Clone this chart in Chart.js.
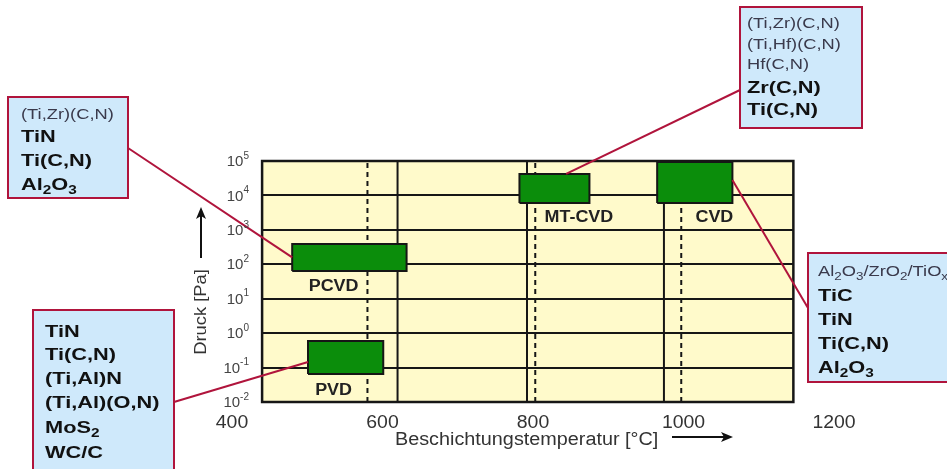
<!DOCTYPE html>
<html>
<head>
<meta charset="utf-8">
<script src="https://cdn.jsdelivr.net/npm/chart.js@4/dist/chart.umd.min.js"></script>
<style>
  html, body { margin: 0; padding: 0; background: #ffffff; }
  #wrap { position: relative; width: 947px; height: 469px; }
</style>
</head>
<body>
<div id="wrap"><canvas id="c"></canvas></div>
<script>
// Coating processes: working window of temperature [°C] and pressure [Pa]
const processes = ['PVD', 'PCVD', 'MT-CVD', 'CVD'];
const tempMin   = [501, 480, 782, 965];
const tempMax   = [601, 632, 875, 1065];
const pressMin  = [0.065, 64, 6000, 6000];
const pressMax  = [0.59, 390, 42000, 93000];

// Where each process name sits (temperature, pressure)
const labelTemp  = [535, 535, 861, 1041];
const labelPress = [0.021, 22, 2200, 2200];

// Axis ticks
const tempTicks = [400, 600, 800, 1000, 1200];
const pressExponents = [5, 4, 3, 2, 1, 0, -1, -2];

// Diagram frame and reference temperatures
const frameTemp  = [440, 1146];
const framePress = [1e-2, 1e5];
const solidTemps  = [620, 792, 974];
const dashedTemps = [580, 803, 997];

// Typical coatings per process
const coatPVD    = [['b', 'TiN'], ['b', 'Ti(C,N)'], ['b', '(Ti,Al)N'], ['b', '(Ti,Al)(O,N)'], ['b', 'MoS{2}'], ['b', 'WC/C']];
const coatPCVD   = [['s', '(Ti,Zr)(C,N)'], ['b', 'TiN'], ['b', 'Ti(C,N)'], ['b', 'Al{2}O{3}']];
const coatMTCVD  = [['s', '(Ti,Zr)(C,N)'], ['s', '(Ti,Hf)(C,N)'], ['s', 'Hf(C,N)'], ['b', 'Zr(C,N)'], ['b', 'Ti(C,N)']];
const coatCVD    = [['s', 'Al{2}O{3}/ZrO{2}/TiO{x}'], ['b', 'TiC'], ['b', 'TiN'], ['b', 'Ti(C,N)'], ['b', 'Al{2}O{3}']];

// Leader line targets on each process box (temperature, pressure)
const leaderTemp  = [501, 480, 844, 1065];
const leaderPress = [0.145, 158, 42000, 28000];

// Callout box placement (pixels), one per process
const calloutLayout = [
  { lines: coatPVD,   rect: [33, 310, 141, 175], anchor: [174, 402], textX: 45,  rows: [332, 355, 379, 403, 428, 453] },
  { lines: coatPCVD,  rect: [8, 97, 120, 101],   anchor: [128, 148], textX: 21,  rows: [115, 137, 161, 185] },
  { lines: coatMTCVD, rect: [740, 7, 122, 121],  anchor: [740, 90],  textX: 747, rows: [24, 45, 65, 88, 110] },
  { lines: coatCVD,   rect: [808, 253, 160, 129], anchor: [808, 308], textX: 818, rows: [272, 296, 320, 344, 368] }
];

const FONT = '"Liberation Sans", Arial, Helvetica, sans-serif';
const STYLE = {
  b: { size: 17, weight: 'bold', color: '#111111', stretch: 1.28 },
  s: { size: 15, weight: 'normal', color: '#3a3a4c', stretch: 1.22 }
};

// Draw text with {sub} subscripts, horizontally stretched, vertically centred on y
function richText(ctx, str, x, y, st, align) {
  const parts = [];
  const re = /\{([^}]*)\}/g;
  let last = 0, m;
  while ((m = re.exec(str)) !== null) {
    if (m.index > last) parts.push([str.slice(last, m.index), false]);
    parts.push([m[1], true]);
    last = re.lastIndex;
  }
  if (last < str.length) parts.push([str.slice(last), false]);
  const subSize = Math.round(st.size * 0.72);
  ctx.save();
  ctx.textBaseline = 'middle';
  ctx.textAlign = 'left';
  ctx.fillStyle = st.color;
  let total = 0;
  for (const [t, sub] of parts) {
    ctx.font = `${st.weight} ${sub ? subSize : st.size}px ${FONT}`;
    total += ctx.measureText(t).width;
  }
  const stretch = st.stretch || 1;
  let startX = x;
  if (align === 'center') startX = x - total * stretch / 2;
  else if (align === 'right') startX = x - total * stretch;
  ctx.translate(startX, y);
  ctx.scale(stretch, 1);
  let cx = 0;
  for (const [t, sub] of parts) {
    ctx.font = `${st.weight} ${sub ? subSize : st.size}px ${FONT}`;
    ctx.fillText(t, cx, sub ? st.size * 0.32 : 0);
    cx += ctx.measureText(t).width;
  }
  ctx.restore();
}

function arrow(ctx, x1, y1, x2, y2) {
  const ang = Math.atan2(y2 - y1, x2 - x1);
  ctx.save();
  ctx.strokeStyle = '#111';
  ctx.fillStyle = '#111';
  ctx.lineWidth = 2;
  ctx.beginPath();
  ctx.moveTo(x1, y1);
  ctx.lineTo(x2 - 8 * Math.cos(ang), y2 - 8 * Math.sin(ang));
  ctx.stroke();
  ctx.translate(x2, y2);
  ctx.rotate(ang);
  ctx.beginPath();
  ctx.moveTo(0, 0);
  ctx.lineTo(-12, -5);
  ctx.lineTo(-9, 0);
  ctx.lineTo(-12, 5);
  ctx.closePath();
  ctx.fill();
  ctx.restore();
}

// Yellow field, pressure grid and frame under the process boxes
const framePlugin = {
  id: 'frame',
  beforeDatasetsDraw(chart) {
    const { ctx, scales: { x, y } } = chart;
    const L = x.getPixelForValue(frameTemp[0]);
    const R = x.getPixelForValue(frameTemp[1]);
    const T = y.getPixelForValue(framePress[1]);
    const B = y.getPixelForValue(framePress[0]);
    ctx.save();
    ctx.fillStyle = '#fffacb';
    ctx.fillRect(L, T, R - L, B - T);
    ctx.strokeStyle = '#161616';
    ctx.lineWidth = 2;
    for (const e of pressExponents) {
      const v = Math.pow(10, e);
      if (v <= framePress[0] || v >= framePress[1]) continue;
      const py = Math.round(y.getPixelForValue(v));
      ctx.beginPath();
      ctx.moveTo(L, py);
      ctx.lineTo(R, py);
      ctx.stroke();
    }
    ctx.lineWidth = 2.5;
    ctx.strokeRect(L, T, R - L, B - T);
    ctx.restore();
  },
  afterDatasetsDraw(chart) {
    const { ctx, scales: { x, y } } = chart;
    // process names
    for (let i = 0; i < processes.length; i++) {
      richText(ctx, processes[i], x.getPixelForValue(labelTemp[i]), y.getPixelForValue(labelPress[i]),
        { size: 16, weight: 'bold', color: '#222222', stretch: 1.12 }, 'center');
    }
    // leader lines to the coating callouts
    ctx.save();
    ctx.strokeStyle = '#b0143c';
    ctx.lineWidth = 2;
    for (let i = 0; i < processes.length; i++) {
      const c = calloutLayout[i];
      ctx.beginPath();
      ctx.moveTo(c.anchor[0], c.anchor[1]);
      ctx.lineTo(x.getPixelForValue(leaderTemp[i]), y.getPixelForValue(leaderPress[i]));
      ctx.stroke();
    }
    ctx.restore();
  },
  afterDraw(chart) {
    const { ctx, scales: { x, y } } = chart;
    // callout boxes
    for (const c of calloutLayout) {
      const [rx, ry, rw, rh] = c.rect;
      ctx.save();
      ctx.fillStyle = '#cfe9fb';
      ctx.fillRect(rx, ry, rw, rh);
      ctx.strokeStyle = '#b0143c';
      ctx.lineWidth = 2;
      ctx.strokeRect(rx, ry, rw, rh);
      ctx.restore();
      c.lines.forEach((ln, k) => richText(ctx, ln[1], c.textX, c.rows[k], STYLE[ln[0]], 'left'));
    }
    // temperature tick labels
    for (const t of tempTicks) {
      richText(ctx, String(t), x.getPixelForValue(t), 423,
        { size: 18, weight: 'normal', color: '#333333', stretch: 1.08 }, 'center');
    }
    // pressure tick labels 10^n
    ctx.save();
    ctx.fillStyle = '#444444';
    ctx.textBaseline = 'middle';
    ctx.textAlign = 'left';
    for (const e of pressExponents) {
      const py = y.getPixelForValue(Math.pow(10, e)) + 1;
      ctx.font = `15px ${FONT}`;
      const wb = ctx.measureText('10').width;
      ctx.font = `10px ${FONT}`;
      const sup = String(e).replace('-', '\u2011');
      const ws = ctx.measureText(sup).width;
      const x0 = 249 - wb - ws;
      ctx.font = `15px ${FONT}`;
      ctx.fillText('10', x0, py);
      ctx.font = `10px ${FONT}`;
      ctx.fillText(sup, x0 + wb, py - 6);
    }
    ctx.restore();
    // axis titles
    richText(ctx, 'Beschichtungstemperatur [°C]', 395, 440,
      { size: 18, weight: 'normal', color: '#333333', stretch: 1.1 }, 'left');
    arrow(ctx, 672, 437, 733, 437);
    ctx.save();
    ctx.translate(201, 312);
    ctx.rotate(-Math.PI / 2);
    richText(ctx, 'Druck [Pa]', 0, 0, { size: 17, weight: 'normal', color: '#333333', stretch: 1.08 }, 'center');
    ctx.restore();
    arrow(ctx, 201, 258, 201, 207);
  }
};

const datasets = [];
// process windows as closed, filled rectangles
for (let i = 0; i < processes.length; i++) {
  datasets.push({
    label: processes[i],
    data: [
      { x: tempMin[i], y: pressMin[i] }, { x: tempMax[i], y: pressMin[i] },
      { x: tempMax[i], y: pressMax[i] }, { x: tempMin[i], y: pressMax[i] },
      { x: tempMin[i], y: pressMin[i] }
    ],
    showLine: true,
    fill: 'shape',
    backgroundColor: '#0b8d0b',
    borderColor: '#161616',
    borderWidth: 2,
    borderJoinStyle: 'miter',
    pointRadius: 0,
    tension: 0,
    order: 1
  });
}
for (const t of solidTemps) {
  datasets.push({
    data: [{ x: t, y: framePress[0] }, { x: t, y: framePress[1] }],
    showLine: true, borderColor: '#161616', borderWidth: 2, pointRadius: 0, order: 2
  });
}
for (const t of dashedTemps) {
  datasets.push({
    data: [{ x: t, y: framePress[0] }, { x: t, y: framePress[1] }],
    showLine: true, borderColor: '#161616', borderWidth: 2, borderDash: [5, 4], pointRadius: 0, order: 2
  });
}

new Chart(document.getElementById('c'), {
  type: 'scatter',
  data: { datasets },
  options: {
    responsive: true,
    maintainAspectRatio: false,
    animation: false,
    layout: { padding: { left: 232, right: 113, top: 161, bottom: 67 } },
    scales: {
      x: { type: 'linear', min: 400, max: 1200, display: false },
      y: { type: 'logarithmic', min: 1e-2, max: 1e5, display: false }
    },
    plugins: { legend: { display: false }, tooltip: { enabled: false } }
  },
  plugins: [framePlugin]
});
</script>
</body>
</html>
